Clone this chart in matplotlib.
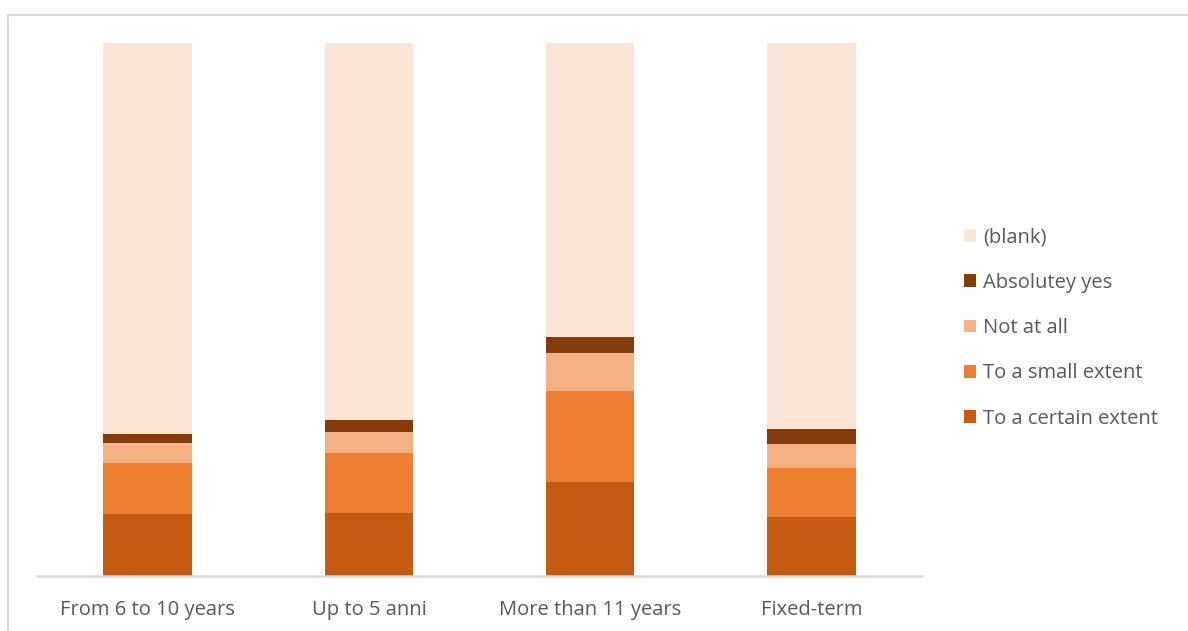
import matplotlib
matplotlib.use('Agg')
import matplotlib.pyplot as plt
from matplotlib.patches import Rectangle, Patch

plt.rcParams['font.family'] = ['Open Sans', 'DejaVu Sans']

# Survey answers by contract length (share of respondents, %)
categories = ['From 6 to 10 years', 'Up to 5 anni', 'More than 11 years', 'Fixed-term']
series_names = ['To a certain extent', 'To a small extent', 'Not at all', 'Absolutey yes', '(blank)']
certain_extent = [11.6, 11.9, 17.6, 11.1]
small_extent = [9.6, 11.1, 17.1, 9.1]
not_at_all = [3.8, 4.0, 7.2, 4.6]
absolutely_yes = [1.6, 2.3, 2.9, 2.7]
blank = [73.4, 70.7, 55.2, 72.5]

colors = ['#C55A11', '#ED7D31', '#F4B183', '#843C0C', '#FBE5D6']
values = [certain_extent, small_extent, not_at_all, absolutely_yes, blank]

fig = plt.figure(figsize=(11.88, 6.31), dpi=100)
ax = fig.add_axes([37 / 1188, 1 - 576 / 631, (922 - 37) / 1188, (576 - 43) / 631])

x = range(len(categories))
bottom = [0] * len(categories)
for vals, col in zip(values, colors):
    ax.bar(x, vals, width=0.4, bottom=bottom, color=col, edgecolor='none')
    bottom = [b + v for b, v in zip(bottom, vals)]

ax.set_xlim(-0.5, len(categories) - 0.5)
ax.set_ylim(0, 100)
ax.set_yticks([])
ax.set_xticks(list(x))
ax.set_xticklabels(categories, fontsize=14.5, color='#595959')
ax.tick_params(axis='x', length=0, pad=17)
for side in ['top', 'right', 'left']:
    ax.spines[side].set_visible(False)
ax.spines['bottom'].set_color('#D9D9D9')
ax.spines['bottom'].set_linewidth(1.8)

# legend, top entry is the last stacked series
handles = [Patch(facecolor=c, edgecolor='none') for c in colors][::-1]
fig.legend(handles, series_names[::-1], loc='center left',
           bbox_to_anchor=(946 / 1188, 1 - 328 / 631), frameon=False,
           fontsize=14.5, labelcolor='#595959', handlelength=0.6,
           handleheight=0.6, handletextpad=0.35, labelspacing=1.26)

# chart area border
fig.patches.append(Rectangle((8 / 1188, -0.1), 1.2, 1 - 15 / 631 + 0.1,
                             transform=fig.transFigure, fill=False,
                             edgecolor='#D9D9D9', linewidth=1.5))

fig.savefig('out.png', dpi=100)
